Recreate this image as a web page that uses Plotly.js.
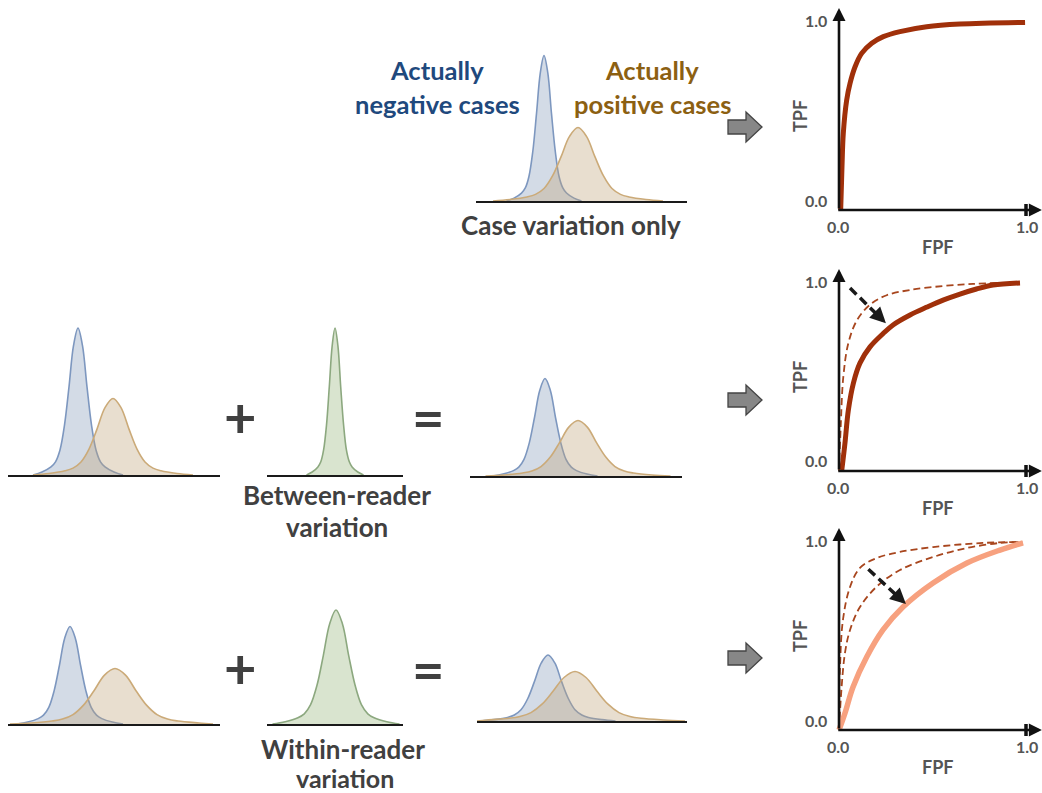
<!DOCTYPE html>
<html><head><meta charset="utf-8">
<script src="https://cdn.plot.ly/plotly-3.0.1.min.js"></script>
<style>html,body{margin:0;padding:0;background:#fff;}#chart{width:1042px;height:793px;}</style>
</head><body><div id="chart"></div>
<script>
// ---------- ROC curves (FPF, TPF) ----------
const roc1FPF = [0.009,0.016,0.023,0.041,0.059,0.086,0.121,0.175,0.237,0.326,0.469,0.647,0.995];
const roc1TPF = [0,0.23,0.408,0.585,0.674,0.762,0.833,0.887,0.922,0.949,0.975,0.989,0.998];

const roc2DashFPF = [0,0.009,0.023,0.050,0.095,0.166,0.255,0.38,0.556,0.717,0.85];
const roc2DashTPF = [0,0.23,0.50,0.68,0.80,0.885,0.935,0.963,0.984,0.995,1.0];
const roc2FPF = [0.015,0.032,0.050,0.077,0.112,0.166,0.235,0.289,0.38,0.471,0.56,0.647,0.735,0.824,0.968];
const roc2TPF = [0.005,0.149,0.324,0.468,0.574,0.66,0.73,0.777,0.83,0.872,0.91,0.941,0.968,0.989,1.0];

const roc3DashAFPF = [0,0.005,0.021,0.059,0.112,0.203,0.326,0.503,0.77,0.98];
const roc3DashATPF = [0,0.319,0.585,0.761,0.862,0.915,0.947,0.973,0.995,1.0];
const roc3DashBFPF = [0,0.014,0.032,0.059,0.112,0.2,0.326,0.503,0.684,0.861,0.98];
const roc3DashBTPF = [0,0.229,0.41,0.532,0.654,0.761,0.851,0.92,0.968,0.995,1.0];
const roc3FPF = [0,0.032,0.075,0.148,0.235,0.342,0.503,0.684,0.861,0.984];
const roc3TPF = [0,0.09,0.229,0.388,0.532,0.654,0.782,0.888,0.957,0.995];

// shift arrows on ROC panels [fromFPF, fromTPF, toFPF, toTPF]
const roc2Shift = [0.059,0.973,0.251,0.786];
const roc3Shift = [0.157,0.855,0.358,0.670];

// ---------- score distributions (decision variable, density) ----------
// top: case variation only
const topNegX = [3.05,3.8,4.55,4.93,5.3,5.68,6.05,6.43,6.8,7.18,7.55,7.93,8.3,8.68,9.05,9.8,10.55];
const topNegY = [0,0.019,0.053,0.087,0.165,0.33,0.582,0.854,0.97,0.854,0.582,0.33,0.165,0.087,0.053,0.019,0];
const topPosX = [1.7,3.4,5.1,5.95,6.8,7.65,8.5,9.35,10.2,11.05,11.9,12.75,13.6,14.45,15.3,17.0,18.7];
const topPosY = [0,0.01,0.027,0.044,0.083,0.167,0.294,0.431,0.49,0.431,0.294,0.167,0.083,0.044,0.027,0.01,0];

// middle row: case variation + between-reader variation
const midNegX = [2.5,3.4,4.3,4.75,5.2,5.65,6.1,6.55,7.0,7.45,7.9,8.35,8.8,9.25,9.7,10.6,11.5];
const midNegY = [0,0.02,0.054,0.088,0.167,0.333,0.588,0.862,0.98,0.862,0.588,0.333,0.167,0.088,0.054,0.02,0];
const midPosX = [2.5,4.1,5.7,6.5,7.3,8.1,8.9,9.7,10.5,11.3,12.1,12.9,13.7,14.5,15.3,16.9,18.5];
const midPosY = [0,0.01,0.028,0.046,0.087,0.173,0.306,0.449,0.51,0.449,0.306,0.173,0.087,0.046,0.028,0.01,0];
const betweenX = [3.95,4.52,5.09,5.38,5.66,5.95,6.23,6.52,6.8,7.09,7.37,7.66,7.94,8.23,8.51,9.08,9.65];
const betweenY = [0,0.02,0.054,0.088,0.167,0.333,0.588,0.862,0.98,0.862,0.588,0.333,0.167,0.088,0.054,0.02,0];
const midSumNegX = [2.25,3.3,4.35,4.88,5.4,5.93,6.45,6.98,7.5,8.03,8.55,9.08,9.6,10.13,10.65,11.7,12.75];
const midSumNegY = [0,0.013,0.036,0.059,0.111,0.221,0.39,0.572,0.65,0.572,0.39,0.221,0.111,0.059,0.036,0.013,0];
const midSumPosX = [1.55,3.4,5.25,6.18,7.1,8.03,8.95,9.88,10.8,11.73,12.65,13.58,14.5,15.43,16.35,18.2,20.05];
const midSumPosY = [0,0.007,0.02,0.033,0.063,0.126,0.222,0.326,0.37,0.326,0.222,0.126,0.063,0.033,0.02,0.007,0];

// bottom row: case variation + within-reader variation
const botNegX = [0.9,1.96,3.02,3.55,4.08,4.61,5.14,5.67,6.2,6.73,7.26,7.79,8.32,8.85,9.38,10.44,11.5];
const botNegY = [0,0.013,0.036,0.059,0.111,0.221,0.39,0.572,0.65,0.572,0.39,0.221,0.111,0.059,0.036,0.013,0];
const botPosX = [0.2,2.3,4.4,5.45,6.5,7.55,8.6,9.65,10.7,11.75,12.8,13.85,14.9,15.95,17.0,19.1,20.5];
const botPosY = [0,0.007,0.02,0.033,0.063,0.126,0.222,0.326,0.37,0.326,0.222,0.126,0.063,0.033,0.02,0.007,0];
const withinX = [0.55,1.82,3.09,3.73,4.36,5.0,5.63,6.27,6.9,7.54,8.17,8.81,9.44,10.08,10.71,11.98,13.25];
const withinY = [0,0.015,0.042,0.068,0.129,0.258,0.456,0.669,0.76,0.669,0.456,0.258,0.129,0.068,0.042,0.015,0];
const botSumNegX = [0.35,1.7,3.05,3.73,4.4,5.08,5.75,6.43,7.1,7.78,8.45,9.13,9.8,10.48,11.15,12.5,13.85];
const botSumNegY = [0,0.009,0.024,0.04,0.075,0.15,0.264,0.387,0.44,0.387,0.264,0.15,0.075,0.04,0.024,0.009,0];
const botSumPosX = [0.0,1.0,3.2,4.3,5.4,6.5,7.6,8.7,9.8,10.9,12.0,13.1,14.2,15.3,16.4,18.6,20.8];
const botSumPosY = [0,0.007,0.018,0.03,0.056,0.112,0.198,0.29,0.33,0.29,0.198,0.112,0.056,0.03,0.018,0.007,0];

// ---------- layout helpers ----------
const W = 1042, H = 793;
const PX = p => p / W;
const PY = p => 1 - p / H;

const NEG = {line:'#7D97BF', fill:'rgba(150,170,195,0.42)'};
const POS = {line:'#CBAA78', fill:'rgba(192,164,121,0.36)'};
const GRN = {line:'#8CA87F', fill:'rgba(155,184,129,0.38)'};
const ROC_DARK = '#A0300A', ROC_LIGHT = '#F7A17F', ROC_DASH = '#A8461E';
const TXT = '#404040';
const FONT = 'Lato, "Open Sans", sans-serif';

const layout = {
  width: W, height: H, margin: {l:0, r:0, t:0, b:0},
  paper_bgcolor: '#fff', plot_bgcolor: 'rgba(0,0,0,0)',
  showlegend: false, annotations: [], shapes: []
};
const data = [];

// ROC panels: origin (px) and scale
const rocOx = 839, rocUx = 187, rocUy = 188;
const rocOrigins = [210, 471, 730];
const rocX0 = -0.03, rocX1 = 1.085, rocY0 = -0.04, rocY1 = 1.08;
rocOrigins.forEach((oy, i) => {
  const n = i === 0 ? '' : String(i + 1);
  layout['xaxis' + n] = {domain:[PX(rocOx + rocX0*rocUx), PX(rocOx + rocX1*rocUx)], range:[rocX0, rocX1],
    visible:false, fixedrange:true, anchor:'y' + n};
  layout['yaxis' + n] = {domain:[PY(oy - rocY0*rocUy), PY(oy - rocY1*rocUy)], range:[rocY0, rocY1],
    visible:false, fixedrange:true, anchor:'x' + n};
  const xr = 'x' + n, yr = 'y' + n;
  layout.annotations.push({xref:xr, yref:yr, axref:xr, ayref:yr, x:0, y:1.075, ax:0, ay:0, text:'',
    showarrow:true, arrowhead:2, arrowsize:1, arrowwidth:2.6, arrowcolor:'#111', standoff:0, startstandoff:0});
  layout.annotations.push({xref:xr, yref:yr, axref:xr, ayref:yr, x:1.085, y:0, ax:-0.012, ay:0, text:'',
    showarrow:true, arrowhead:2, arrowsize:1, arrowwidth:2.6, arrowcolor:'#111', standoff:0, startstandoff:0});
  layout.shapes.push({type:'line', xref:xr, yref:yr, x0:1, x1:1, y0:-0.032, y1:0.032, line:{color:'#111', width:3.5}});
  const lab = (cx, cy, t, size, angle) => layout.annotations.push({xref:'paper', yref:'paper', x:PX(cx), y:PY(cy),
    text:'<b>' + t + '</b>', showarrow:false, xanchor:'center', yanchor:'middle', textangle:angle || 0,
    font:{family:FONT, size:size, color:'#555'}});
  lab(816, oy - 10, '0.0', 16);
  lab(816, oy - 190, '1.0', 16);
  lab(838, oy + 16, '0.0', 16);
  lab(1027, oy + 16, '1.0', 16);
  lab(938, oy + 37, 'FPF', 18);
  lab(800, oy - 94, 'TPF', 18, -90);
});

function rocLine(x, y, axn, color, width, dash) {
  data.push({type:'scatter', mode:'lines', x:x, y:y, xaxis:'x' + axn, yaxis:'y' + axn, hoverinfo:'skip',
    line:{color:color, width:width, shape:'spline', smoothing:1, dash:dash || 'solid'}});
}
rocLine(roc1FPF, roc1TPF, '', ROC_DARK, 5);
rocLine(roc2DashFPF, roc2DashTPF, '2', ROC_DASH, 1.8, '7px,4px');
rocLine(roc2FPF, roc2TPF, '2', ROC_DARK, 5);
rocLine(roc3DashAFPF, roc3DashATPF, '3', ROC_DASH, 1.8, '7px,4px');
rocLine(roc3DashBFPF, roc3DashBTPF, '3', ROC_DASH, 1.8, '7px,4px');
rocLine(roc3FPF, roc3TPF, '3', ROC_LIGHT, 5.5);

function shiftArrow(s, axn) {
  const [x0, y0, x1, y1] = s;
  const f = 0.78;
  layout.shapes.push({type:'line', xref:'x' + axn, yref:'y' + axn, x0:x0, y0:y0,
    x1:x0 + (x1 - x0)*f, y1:y0 + (y1 - y0)*f, line:{color:'#1a1a1a', width:3.5, dash:'9px,5px'}});
  layout.annotations.push({xref:'x' + axn, yref:'y' + axn, axref:'x' + axn, ayref:'y' + axn,
    x:x1, y:y1, ax:x0 + (x1 - x0)*0.75, ay:y0 + (y1 - y0)*0.75, text:'', showarrow:true,
    arrowhead:2, arrowsize:0.9, arrowwidth:3.5, arrowcolor:'#1a1a1a', standoff:0});
}
shiftArrow(roc2Shift, '2');
shiftArrow(roc3Shift, '3');

// distribution panels: left px, baseline px, x span (units of 10 px), y unit = 150 px
const panels = [
  {id:4, left:476, base:201, span:21.1},
  {id:5, left:8,   base:475, span:21.2},
  {id:6, left:267, base:475, span:13.6},
  {id:7, left:470, base:476, span:21.2},
  {id:8, left:8,   base:724, span:21.2},
  {id:9, left:267, base:724, span:13.6},
  {id:10, left:477, base:721, span:21.0}
];
panels.forEach(p => {
  layout['xaxis' + p.id] = {domain:[PX(p.left), PX(p.left + p.span*10)], range:[0, p.span], anchor:'y' + p.id,
    showline:true, linecolor:'#1a1a1a', linewidth:2, showticklabels:false, ticks:'', showgrid:false,
    zeroline:false, fixedrange:true};
  layout['yaxis' + p.id] = {domain:[PY(p.base), PY(p.base - 150)], range:[0, 1], anchor:'x' + p.id,
    visible:false, fixedrange:true};
});
function dist(x, y, id, c) {
  data.push({type:'scatter', mode:'lines', x:x, y:y, xaxis:'x' + id, yaxis:'y' + id, hoverinfo:'skip',
    fill:'tozeroy', fillcolor:c.fill, line:{color:c.line, width:1.6, shape:'spline', smoothing:1}});
}
dist(topNegX, topNegY, 4, NEG);   dist(topPosX, topPosY, 4, POS);
dist(midNegX, midNegY, 5, NEG);   dist(midPosX, midPosY, 5, POS);
dist(betweenX, betweenY, 6, GRN);
dist(midSumNegX, midSumNegY, 7, NEG); dist(midSumPosX, midSumPosY, 7, POS);
dist(botNegX, botNegY, 8, NEG);   dist(botPosX, botPosY, 8, POS);
dist(withinX, withinY, 9, GRN);
dist(botSumNegX, botSumNegY, 10, NEG); dist(botSumPosX, botSumPosY, 10, POS);

// text labels
function txt(cx, cy, t, size, color) {
  layout.annotations.push({xref:'paper', yref:'paper', x:PX(cx), y:PY(cy), text:'<b>' + t + '</b>',
    showarrow:false, xanchor:'center', yanchor:'middle', font:{family:FONT, size:size, color:color}});
}
txt(437, 70, 'Actually', 25.5, '#1F497D');
txt(437, 104, 'negative cases', 25.5, '#1F497D');
txt(652, 70, 'Actually', 25.5, '#8C6012');
txt(652, 104, 'positive cases', 25.5, '#8C6012');
txt(571, 225, 'Case variation only', 26, TXT);
txt(337, 495, 'Between-reader', 26, TXT);
txt(337, 527, 'variation', 26, TXT);
txt(343, 749, 'Within-reader', 26, TXT);
txt(345, 778, 'variation', 25, TXT);
txt(240, 416, '+', 56, TXT);
txt(428, 416, '=', 56, TXT);
txt(240, 667, '+', 56, TXT);
txt(428, 668, '=', 56, TXT);

// block arrows between panels
[127, 400, 658].forEach(cy => {
  const pts = [[728, cy - 7], [746, cy - 7], [746, cy - 15], [762, cy], [746, cy + 15], [746, cy + 7], [728, cy + 7]];
  const path = 'M' + pts.map(p => PX(p[0]) + ',' + PY(p[1])).join('L') + 'Z';
  layout.shapes.push({type:'path', xref:'paper', yref:'paper', path:path, fillcolor:'#878787',
    line:{color:'#444', width:1.3}});
});

Plotly.newPlot('chart', data, layout, {staticPlot:true, displayModeBar:false});
</script>
</body></html>
